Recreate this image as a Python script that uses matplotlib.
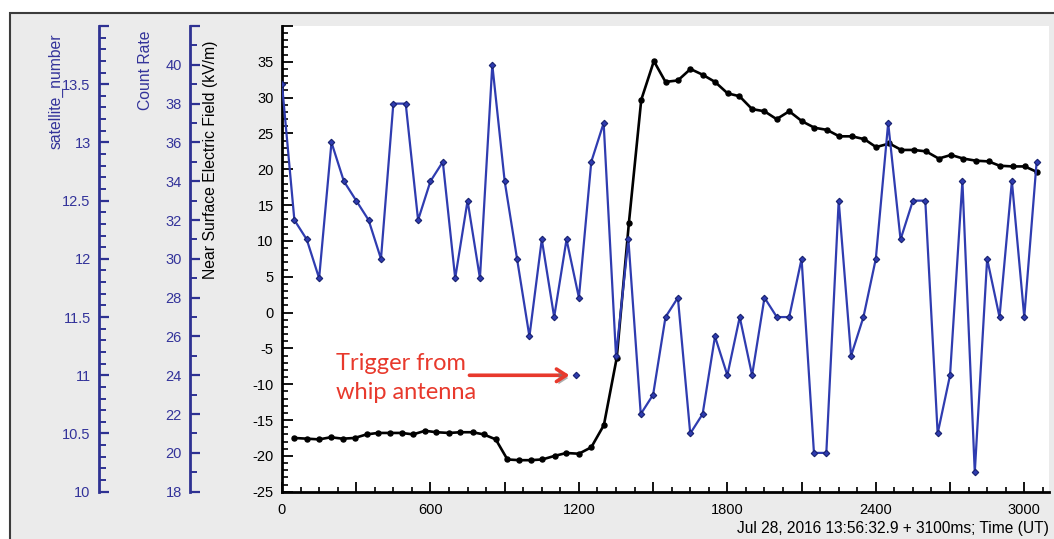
import matplotlib
matplotlib.use('Agg')
import matplotlib.pyplot as plt
import matplotlib.patheffects as pe
import numpy as np
from matplotlib.ticker import MultipleLocator, FuncFormatter
from matplotlib.patches import Rectangle

# count rate (blue), one sample every 50 ms
rate_t = np.arange(0, 3100, 50)
rate = [39, 32, 31, 29, 36, 34, 33, 32, 30, 38, 38, 32, 34, 35, 29, 33,
        29, 40, 34, 30, 26, 31, 27, 31, 28, 35, 37, 25, 31, 22, 23, 27,
        28, 21, 22, 26, 24, 27, 24, 28, 27, 27, 30, 20, 20, 33, 25, 27,
        30, 37, 31, 33, 33, 21, 24, 34, 19, 30, 27, 34, 27, 35]

# near surface electric field (black), kV/m
ef_t = [48, 102, 150, 197, 245, 294, 342, 388, 436, 483, 530, 578, 624,
        675, 721, 770, 815, 864, 911, 958, 1005, 1052, 1102, 1149, 1200,
        1250, 1301, 1353, 1402, 1452, 1503, 1550, 1600, 1651, 1700, 1750,
        1801, 1849, 1900, 1950, 1999, 2050, 2102, 2152, 2203, 2252, 2304,
        2354, 2401, 2455, 2503, 2553, 2603, 2654, 2704, 2753, 2805, 2856,
        2900, 2953, 3002, 3053]
ef = [-17.5, -17.6, -17.7, -17.4, -17.6, -17.5, -17.0, -16.8, -16.8, -16.8,
      -17.0, -16.5, -16.7, -16.8, -16.7, -16.7, -17.0, -17.7, -20.5, -20.6,
      -20.6, -20.5, -20.0, -19.6, -19.7, -18.8, -15.7, -6.3, 12.5, 29.7,
      35.1, 32.2, 32.4, 34.0, 33.2, 32.2, 30.6, 30.2, 28.4, 28.1, 27.0,
      28.1, 26.7, 25.8, 25.5, 24.6, 24.6, 24.2, 23.1, 23.6, 22.7, 22.7,
      22.5, 21.5, 22.0, 21.5, 21.2, 21.1, 20.5, 20.4, 20.4, 19.6]

# lone sample from the whip antenna trigger
trig_t = [1190]
trig_rate = [24]

W, H = 1054, 539
blue = '#2f3cb0'
navy = '#2e3192'

plt.rcParams['font.family'] = ['Liberation Sans', 'DejaVu Sans']
plt.rcParams['font.size'] = 10

fig = plt.figure(figsize=(W / 100, H / 100), dpi=100, facecolor='white')
fig.patches.append(Rectangle((10 / W, -0.05), 1.1, (H - 12.7) / H + 0.05,
                             transform=fig.transFigure, fc='#ebebeb',
                             ec='#3c3c3c', lw=1.5, zorder=-10))

ax_l, ax_r, ax_top, ax_bot = 282, 1049, 26, 491.7
ax = fig.add_axes([ax_l / W, (H - ax_bot) / H, (ax_r - ax_l) / W,
                   (ax_bot - ax_top) / H])
ax.plot(ef_t, ef, color='black', lw=1.9, marker='o', ms=3.6, zorder=3)
ax.set_xlim(0, 3100)
ax.set_ylim(-25, 40)
for s in ['top', 'right']:
    ax.spines[s].set_visible(False)
for s in ['left', 'bottom']:
    ax.spines[s].set_linewidth(2)
ax.xaxis.set_major_locator(MultipleLocator(300))
ax.xaxis.set_minor_locator(MultipleLocator(75))
ax.xaxis.set_major_formatter(FuncFormatter(lambda v, p: '%d' % v if v % 600 == 0 else ''))
ax.yaxis.set_major_locator(MultipleLocator(5))
ax.yaxis.set_minor_locator(MultipleLocator(1))
ax.yaxis.set_major_formatter(FuncFormatter(lambda v, p: '%g' % v if v < 37 else ''))
ax.tick_params(axis='x', which='major', direction='in', length=7, width=1.3, pad=8, labelsize=10.5)
ax.tick_params(axis='x', which='minor', direction='in', length=3.5, width=1.2)
ax.tick_params(axis='y', which='major', direction='in', length=8, width=1.3, pad=6, labelsize=10.5)
ax.tick_params(axis='y', which='minor', direction='in', length=4.5, width=1.2)
ax.set_xlabel('Jul 28, 2016 13:56:32.9 + 3100ms; Time (UT)', fontsize=11.2)
ax.xaxis.set_label_coords(1.0, -(528 - ax_bot) / (ax_bot - ax_top))
ax.xaxis.label.set(ha='right', va='center')
ax.set_ylabel('Near Surface Electric Field (kV/m)', fontsize=11.3)

aw, ah = ax_r - ax_l, ax_bot - ax_top
ax.yaxis.set_label_coords((211 - ax_l) / aw, (ax_bot - 41) / ah)
ax.yaxis.label.set(rotation_mode='default', ha='center', va='top')


def side_axis(offset_px, lo, hi, major, minor, label, label_x, label_top):
    a = ax.twinx()
    for s in ['top', 'right', 'bottom']:
        a.spines[s].set_visible(False)
    a.spines['left'].set_visible(True)
    a.spines['left'].set_position(('axes', -offset_px / aw))
    a.spines['left'].set_color(navy)
    a.spines['left'].set_linewidth(2)
    a.yaxis.set_ticks_position('left')
    a.yaxis.set_label_position('left')
    a.set_ylim(lo, hi)
    a.yaxis.set_major_locator(MultipleLocator(major))
    a.yaxis.set_minor_locator(MultipleLocator(minor))
    a.yaxis.set_major_formatter(FuncFormatter(lambda v, p: '%g' % v if v < hi - 1e-6 else ''))
    a.tick_params(axis='y', which='major', direction='in', length=7, width=1.6,
                  color=navy, labelcolor='#33339a', pad=6, labelsize=10.5)
    a.tick_params(axis='y', which='minor', direction='in', length=5, width=1.4, color=navy)
    a.set_ylabel(label, color='#33339a', fontsize=11.3)
    a.yaxis.set_label_coords((label_x - ax_l) / aw, (ax_bot - label_top) / ah)
    a.yaxis.label.set(rotation_mode='default', ha='center', va='top')
    return a


ax_sat = side_axis(183, 10, 14, 0.5, 0.1, 'satellite_number', 56, 33)
ax_rate = side_axis(92, 18, 42, 2, 1, 'Count Rate', 146, 31)

ax_rate.plot(rate_t, rate, color=blue, lw=1.6, marker='D', ms=3.3,
             mfc=blue, mec='#16206e', mew=0.8, zorder=4)
ax_rate.plot(trig_t, trig_rate, ls='none', marker='D', ms=3.3,
             mfc=blue, mec='#16206e', mew=0.8)

red = '#e8392c'
ax_rate.annotate('', xy=(trig_t[0], trig_rate[0]), xytext=(-107, 0),
                 textcoords='offset pixels',
                 arrowprops=dict(arrowstyle='->,head_length=0.7,head_width=0.45',
                                 color=red, lw=2.6, shrinkA=0, shrinkB=5,
                                 path_effects=[pe.SimplePatchShadow(offset=(1.5, -2), shadow_rgbFace='#777777', alpha=0.6),
                                               pe.Normal()]))
ax_rate.annotate('Trigger from\nwhip antenna', xy=(trig_t[0], trig_rate[0]),
                 xytext=(336 - 576.7, 22), textcoords='offset pixels',
                 ha='left', va='top', color=red, fontsize=17,
                 family=['Lato', 'DejaVu Sans'], linespacing=1.45)

fig.savefig('out.png', dpi=100, facecolor=fig.get_facecolor())
